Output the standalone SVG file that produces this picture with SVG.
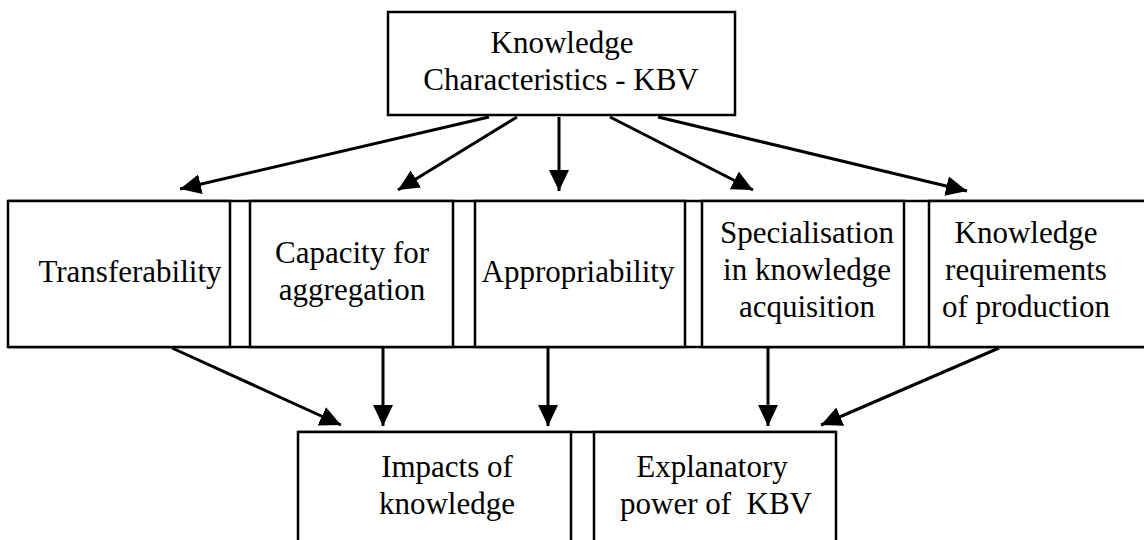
<svg xmlns="http://www.w3.org/2000/svg" width="1144" height="540" viewBox="0 0 1144 540">
  <style>
    .box { fill: #ffffff; stroke: #000000; stroke-width: 2.5; }
    .rule { fill: none; stroke: #000000; stroke-width: 2.5; }
    .label { font-family: "Liberation Serif", "Times New Roman", serif; font-size: 31px; fill: #000000; text-anchor: middle; }
    .edge { fill: none; stroke: #000000; stroke-width: 3; marker-end: url(#head); }
  </style>
  <defs>
    <marker id="head" markerUnits="userSpaceOnUse" markerWidth="22" markerHeight="21" refX="21" refY="10" orient="auto">
      <path d="M0,0 L21,10 L0,20 Z" fill="#000000"/>
    </marker>
  </defs>

  <rect width="1144" height="540" fill="#ffffff"/>

  <!-- top: source of all characteristics -->
  <g id="kbv-characteristics">
    <rect class="box" x="388" y="12" width="347" height="103"/>
    <text class="label" x="562" y="53">Knowledge</text>
    <text class="label" x="561" y="90">Characteristics - KBV</text>
  </g>

  <!-- middle row: continuous top and bottom rules joining the five boxes -->
  <g id="row-frame">
    <path class="rule" d="M8,201 H1150 M8,347 H1150"/>
  </g>

  <g id="transferability">
    <rect class="box" x="8" y="201" width="222" height="146"/>
    <text class="label" x="130" y="282">Transferability</text>
  </g>

  <g id="capacity-for-aggregation">
    <rect class="box" x="250" y="201" width="203" height="146"/>
    <text class="label" x="352" y="263">Capacity for</text>
    <text class="label" x="352" y="300">aggregation</text>
  </g>

  <g id="appropriability">
    <rect class="box" x="475" y="201" width="210" height="146"/>
    <text class="label" x="578" y="282">Appropriability</text>
  </g>

  <g id="specialisation">
    <rect class="box" x="702" y="201" width="202" height="146"/>
    <text class="label" x="807" y="243">Specialisation</text>
    <text class="label" x="807" y="280">in knowledge</text>
    <text class="label" x="807" y="317">acquisition</text>
  </g>

  <g id="knowledge-requirements">
    <rect class="box" x="929" y="201" width="222" height="146"/>
    <text class="label" x="1026" y="243">Knowledge</text>
    <text class="label" x="1026" y="280">requirements</text>
    <text class="label" x="1026" y="317">of production</text>
  </g>

  <!-- bottom row -->
  <g id="bottom-frame">
    <path class="rule" d="M298,432 H836"/>
  </g>

  <g id="impacts-of-knowledge">
    <rect class="box" x="298" y="432" width="273" height="130"/>
    <text class="label" x="447" y="477">Impacts of</text>
    <text class="label" x="447" y="514">knowledge</text>
  </g>

  <g id="explanatory-power">
    <rect class="box" x="594" y="432" width="242" height="130"/>
    <text class="label" x="712" y="477">Explanatory</text>
    <text class="label" x="716" y="514" style="white-space:pre">power of  KBV</text>
  </g>

  <!-- connectors -->
  <g id="connectors">
    <line class="edge" x1="489" y1="117" x2="180" y2="189"/>
    <line class="edge" x1="517" y1="117" x2="398" y2="190"/>
    <line class="edge" x1="559" y1="117" x2="559" y2="191"/>
    <line class="edge" x1="610" y1="117" x2="753" y2="190"/>
    <line class="edge" x1="658" y1="117" x2="967" y2="191"/>

    <line class="edge" x1="172" y1="348" x2="341" y2="425"/>
    <line class="edge" x1="383" y1="348" x2="383" y2="426"/>
    <line class="edge" x1="548" y1="348" x2="548" y2="426"/>
    <line class="edge" x1="768" y1="348" x2="768" y2="426"/>
    <line class="edge" x1="999" y1="348" x2="821" y2="425"/>
  </g>
</svg>
